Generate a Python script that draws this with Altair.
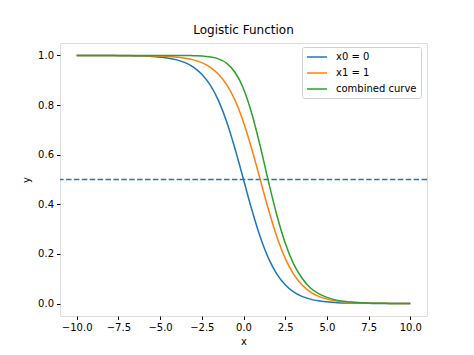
import altair as alt
import pandas as pd

x_vals = [-10.0, -9.5, -9.0, -8.5, -8.0, -7.5, -7.0, -6.5, -6.0, -5.5, -5.0, -4.5, -4.0, -3.5,
          -3.0, -2.5, -2.0, -1.5, -1.0, -0.5, 0.0, 0.5, 1.0, 1.5, 2.0, 2.5, 3.0, 3.5, 4.0, 4.5,
          5.0, 5.5, 6.0, 6.5, 7.0, 7.5, 8.0, 8.5, 9.0, 9.5, 10.0]
blue_vals = [1.000, 1.000, 1.000, 1.000, 1.000, 0.999, 0.999, 0.998, 0.998, 0.996, 0.993, 0.989,
             0.982, 0.971, 0.953, 0.924, 0.881, 0.818, 0.731, 0.622, 0.500, 0.378, 0.269, 0.182,
             0.119, 0.076, 0.047, 0.029, 0.018, 0.011, 0.007, 0.004, 0.002, 0.002, 0.001, 0.001,
             0.000, 0.000, 0.000, 0.000, 0.000]
orange_vals = [1.000, 1.000, 1.000, 1.000, 1.000, 1.000, 1.000, 0.999, 0.999, 0.998, 0.998, 0.996,
               0.993, 0.989, 0.982, 0.971, 0.953, 0.924, 0.881, 0.818, 0.731, 0.622, 0.500, 0.378,
               0.269, 0.182, 0.119, 0.076, 0.047, 0.029, 0.018, 0.011, 0.007, 0.004, 0.002, 0.002,
               0.001, 0.001, 0.000, 0.000, 0.000]
green_vals = [1.000, 1.000, 1.000, 1.000, 1.000, 1.000, 1.000, 1.000, 1.000, 1.000, 1.000, 1.000,
              1.000, 1.000, 0.999, 0.998, 0.994, 0.986, 0.968, 0.931, 0.866, 0.765, 0.635, 0.491,
              0.356, 0.244, 0.160, 0.103, 0.064, 0.040, 0.025, 0.015, 0.009, 0.006, 0.003, 0.002,
              0.001, 0.001, 0.000, 0.000, 0.000]
series_names = ["x0 = 0", "x1 = 1", "combined curve"]
series_colors = ["#1f77b4", "#ff7f0e", "#2ca02c"]
x_ticks = [-10.0, -7.5, -5.0, -2.5, 0.0, 2.5, 5.0, 7.5, 10.0]
y_ticks = [0.0, 0.2, 0.4, 0.6, 0.8, 1.0]
hline_y = 0.5

rows = []
for name, vals in zip(series_names, [blue_vals, orange_vals, green_vals]):
    for i, (xv, yv) in enumerate(zip(x_vals, vals)):
        rows.append({"x": xv, "y": yv, "series": name, "order": i})
df = pd.DataFrame(rows)

FONT = "DejaVu Sans"

xs = alt.Scale(domain=[-11, 11], nice=False, zero=False)
ys = alt.Scale(domain=[-0.05, 1.05], nice=False, zero=False)

lines = alt.Chart(df).mark_line(strokeWidth=1.5, interpolate="monotone", clip=True).encode(
    x=alt.X("x:Q", scale=xs, title="x",
            axis=alt.Axis(values=x_ticks, format=".1f", grid=False, domain=False,
                          tickColor="black", tickSize=3.5, labelPadding=3,
                          labelColor="black", labelFontSize=10, labelFont=FONT,
                          titleFont=FONT, titleFontSize=10, titleFontWeight="normal",
                          titleColor="black", titlePadding=4, labelFlush=False)),
    y=alt.Y("y:Q", scale=ys, title="y",
            axis=alt.Axis(values=y_ticks, format=".1f", grid=False, domain=False,
                          tickColor="black", tickSize=3.5, labelPadding=3,
                          labelColor="black", labelFontSize=10, labelFont=FONT,
                          titleFont=FONT, titleFontSize=10, titleFontWeight="normal",
                          titleColor="black", titlePadding=6, labelFlush=False)),
    color=alt.Color("series:N",
                    scale=alt.Scale(domain=series_names, range=series_colors),
                    sort=series_names,
                    legend=alt.Legend(title=None, orient="none", legendX=242, legendY=4,
                                      symbolType="M-2,0H2", symbolSize=100, symbolStrokeWidth=1.5,
                                      symbolOffset=5,
                                      labelFont=FONT, labelFontSize=10, labelColor="black",
                                      strokeColor="#d0d0d0", fillColor="white", padding=4,
                                      cornerRadius=2, rowPadding=5, labelOffset=13)),
    order="order:Q",
)

hline = alt.Chart(pd.DataFrame({"y": [hline_y]})).mark_rule(
    color="#1f77b4", strokeWidth=1.5, strokeDash=[5.5, 2.4]
).encode(y=alt.Y("y:Q", scale=ys))

chart = alt.layer(hline, lines).properties(
    width=367, height=273,
    title=alt.Title("Logistic Function", font=FONT, fontSize=12, fontWeight="normal",
                    color="black", offset=6),
    autosize=alt.AutoSizeParams(type="none"),
    padding={"left": 52, "top": 35, "right": 39, "bottom": 31},
).configure_view(stroke="black", strokeWidth=1).configure(background="white")

chart.save("out.html", embed_options={"renderer": "svg", "actions": False})
